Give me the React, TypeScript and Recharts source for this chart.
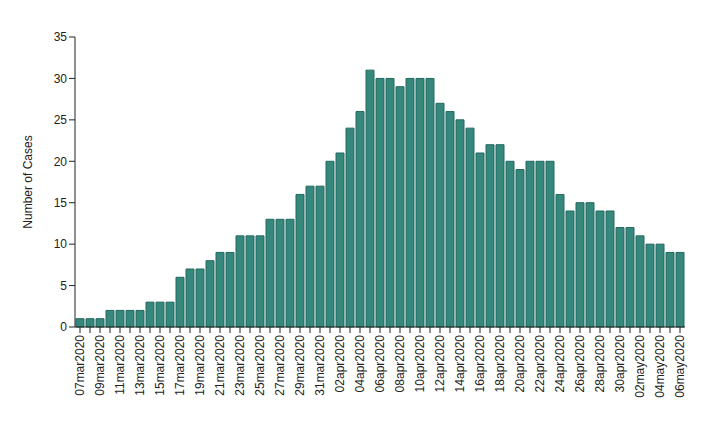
import React from "react";
import { Bar, BarChart, XAxis, YAxis } from "recharts";

const days = [
  "07mar2020", "08mar2020", "09mar2020", "10mar2020", "11mar2020", "12mar2020", "13mar2020",
  "14mar2020", "15mar2020", "16mar2020", "17mar2020", "18mar2020", "19mar2020", "20mar2020",
  "21mar2020", "22mar2020", "23mar2020", "24mar2020", "25mar2020", "26mar2020", "27mar2020",
  "28mar2020", "29mar2020", "30mar2020", "31mar2020", "01apr2020", "02apr2020", "03apr2020",
  "04apr2020", "05apr2020", "06apr2020", "07apr2020", "08apr2020", "09apr2020", "10apr2020",
  "11apr2020", "12apr2020", "13apr2020", "14apr2020", "15apr2020", "16apr2020", "17apr2020",
  "18apr2020", "19apr2020", "20apr2020", "21apr2020", "22apr2020", "23apr2020", "24apr2020",
  "25apr2020", "26apr2020", "27apr2020", "28apr2020", "29apr2020", "30apr2020", "01may2020",
  "02may2020", "03may2020", "04may2020", "05may2020", "06may2020",
];

const cases = [
  1, 1, 1, 2, 2, 2, 2, 3, 3, 3, 6, 7, 7, 8, 9, 9, 11, 11, 11, 13, 13, 13, 16, 17, 17,
  20, 21, 24, 26, 31, 30, 30, 29, 30, 30, 30, 27, 26, 25, 24, 21, 22, 22, 20, 19, 20,
  20, 20, 16, 14, 15, 15, 14, 14, 12, 12, 11, 10, 10, 9, 9,
];

const yTicks = [0, 5, 10, 15, 20, 25, 30, 35];

const data = days.map((day, i) => ({ day, cases: cases[i] }));

const font = "'Liberation Sans', Arial, sans-serif";

function DayTick(props: any) {
  const { x, y, payload, index } = props;
  if (index % 2 !== 0) return <g />;
  return (
    <g transform={`translate(${x},${y})`}>
      <text
        x={0}
        y={0}
        dy={4}
        textAnchor="end"
        transform="rotate(-90)"
        fontSize={12}
        fontFamily={font}
        fill="#222"
      >
        {payload.value}
      </text>
    </g>
  );
}

export default function App() {
  return (
    <div style={{ position: "absolute", left: 0, top: 0, width: 713, height: 423, background: "#fff" }}>
      <BarChart
        width={713}
        height={423}
        data={data}
        margin={{ top: 37, right: 28, left: 0, bottom: 6 }}
        barCategoryGap="10%"
      >
        <XAxis
          dataKey="day"
          interval={0}
          height={90}
          tick={<DayTick />}
          tickSize={6}
          stroke="#222"
          axisLine={{ stroke: "#222" }}
          tickLine={{ stroke: "#222" }}
        />
        <YAxis
          width={75}
          domain={[0, 35]}
          ticks={yTicks}
          tickSize={6}
          stroke="#222"
          tick={{ fontSize: 12, fontFamily: font, fill: "#222" }}
          label={{
            value: "Number of Cases",
            angle: -90,
            position: "center",
            dx: -10,
            style: { fontSize: 12, fontFamily: font, fill: "#222" },
          }}
        />
        <Bar
          dataKey="cases"
          fill="#36877c"
          stroke="#22695f"
          strokeWidth={1}
          isAnimationActive={false}
        />
      </BarChart>
    </div>
  );
}
